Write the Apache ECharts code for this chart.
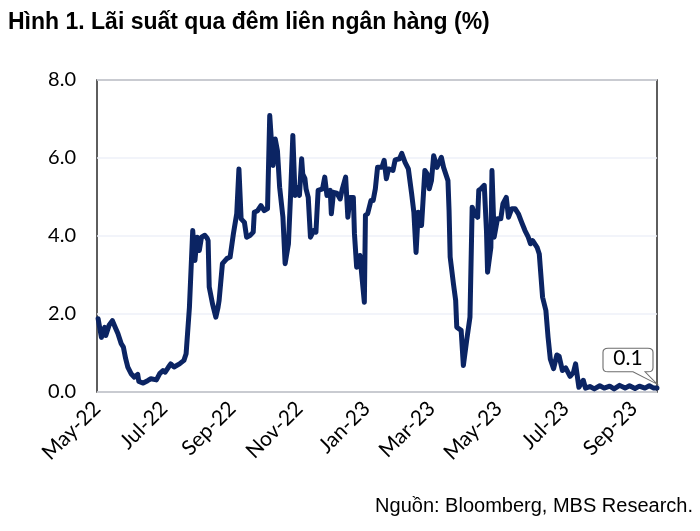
<!DOCTYPE html>
<html>
<head>
<meta charset="utf-8">
<script src="https://cdn.jsdelivr.net/npm/echarts@6/dist/echarts.min.js"></script>
<style>
html,body{margin:0;padding:0;background:#fff;}
#chart{width:700px;height:531px;}
</style>
</head>
<body>
<div id="chart"></div>
<script>
const titleText = 'Hình 1. Lãi suất qua đêm liên ngân hàng (%)';
const sourceText = 'Nguồn: Bloomberg, MBS Research.';
const startDate = [2022, 4, 1];           // 1 May 2022
const endOffset = 509;                    // axis end, days after start
const tickMonths = [[2022,4],[2022,6],[2022,8],[2022,10],[2023,0],[2023,2],[2023,4],[2023,6],[2023,8]];
const monthNames = ['Jan','Feb','Mar','Apr','May','Jun','Jul','Aug','Sep','Oct','Nov','Dec'];
const yTicks = [0, 2, 4, 6, 8];

// days after 1 May 2022
const dayOffsets = [1,4,7,8,11,14,17,19,22,24,26,28,31,34,37,38,42,46,49,54,57,60,62,65,67,70,75,79,81,84,87,89,91,93,95,98,100,101,102,105,108,110,111,114,118,121,124,127,129,131,134,136,139,142,143,146,149,152,155,157,160,162,164,166,169,171,174,176,178,180,183,184,186,187,189,190,192,194,197,199,201,205,207,209,212,213,215,218,221,223,226,228,230,233,234,236,239,240,243,244,246,249,251,253,255,259,261,263,265,269,271,275,277,280,283,286,288,290,292,295,298,300,302,304,306,309,313,315,319,320,321,324,326,327,331,333,336,339,341,343,346,347,349,352,354,355,358,359,361,364,367,369,372,374,377,380,383,386,389,392,394,396,400,402,405,408,410,412,415,418,420,423,426,430,433,435,438,440,442,444,448,452,457,461,466,470,475,480,484,489,493,498,502,506,509];
const rates = [1.88,1.40,1.66,1.45,1.71,1.83,1.63,1.50,1.24,1.15,0.86,0.64,0.47,0.38,0.45,0.27,0.23,0.29,0.34,0.31,0.47,0.55,0.51,0.64,0.72,0.64,0.72,0.81,0.98,2.17,4.14,3.37,3.97,3.63,3.97,4.02,3.95,3.88,2.69,2.26,1.92,2.17,2.35,3.29,3.42,3.46,4.06,4.57,5.72,4.44,4.35,3.97,4.01,4.10,4.61,4.65,4.78,4.65,4.70,7.09,5.81,6.49,6.19,5.25,4.48,3.29,3.80,5.08,6.58,5.04,5.25,5.04,5.98,5.59,5.47,5.21,4.99,3.97,4.14,4.10,5.17,5.21,5.51,5.04,5.17,4.57,5.12,5.10,4.95,5.21,5.51,4.48,4.99,4.99,4.06,3.20,3.50,3.46,2.30,4.53,4.57,4.91,4.91,5.21,5.76,5.76,5.94,5.47,5.72,5.68,5.95,5.98,6.12,5.89,5.72,5.08,4.61,3.58,4.61,4.27,5.68,5.60,5.21,5.42,6.06,5.76,6.02,5.76,5.42,4.65,3.46,2.77,2.35,1.66,1.58,0.68,1.32,1.92,4.74,4.57,4.48,5.17,5.21,5.30,4.14,3.07,3.71,5.68,3.97,4.44,4.44,4.83,4.99,4.48,4.70,4.70,4.57,4.35,4.14,3.97,3.80,3.88,3.71,3.54,2.43,2.09,1.40,0.85,0.60,0.95,0.92,0.55,0.62,0.40,0.50,0.72,0.12,0.22,0.30,0.10,0.14,0.08,0.16,0.10,0.15,0.08,0.17,0.10,0.16,0.09,0.15,0.10,0.16,0.10,0.10];

const DAY = 86400000;
const t0 = Date.UTC(startDate[0], startDate[1], startDate[2]);
const tickValues = tickMonths.map(m => Math.round((Date.UTC(m[0], m[1], 1) - t0) / DAY));
const seriesData = dayOffsets.map((d,i) => [d, rates[i]]);
const last = seriesData[seriesData.length - 1];

const chart = echarts.init(document.getElementById('chart'), null, {renderer:'canvas'});
chart.setOption({
  animation:false,
  backgroundColor:'#fff',
  title:[
    {text:titleText, left:3, top:6,
     textStyle:{fontFamily:'Liberation Sans, Arial, sans-serif', fontWeight:'bold', fontSize:23, color:'#000'}},
    {text:sourceText, right:2, bottom:10,
     textStyle:{fontFamily:'Liberation Sans, Arial, sans-serif', fontWeight:'normal', fontSize:20, color:'#000'}}
  ],
  grid:{left:97, top:80, width:560, height:312, show:true, borderColor:'#2a2a2a', borderWidth:1.5, backgroundColor:'transparent'},
  xAxis:{
    type:'value',
    min:0, max:endOffset,
    axisLine:{show:false}, axisTick:{show:false},
    splitLine:{show:false},
    axisLabel:{
      customValues:tickValues, rotate:45, margin:13,
      fontFamily:'Lato, sans-serif', fontSize:21, color:'#000',
      formatter:function(v){ const d=new Date(t0 + v*DAY); return monthNames[d.getUTCMonth()]+'-'+String(d.getUTCFullYear()).slice(2); }
    }
  },
  yAxis:{
    type:'value', min:yTicks[0], max:yTicks[yTicks.length-1], interval:2,
    axisLine:{show:false}, axisTick:{show:false},
    splitLine:{lineStyle:{color:'#eef0f8', width:1.5}},
    axisLabel:{margin:21, fontFamily:'Lato, sans-serif', fontSize:20, color:'#000',
      formatter:function(v){ return v.toFixed(1); }}
  },
  series:[{
    type:'line', data:seriesData, showSymbol:false,
    lineStyle:{color:'#0b2463', width:5, join:'round', cap:'round'},
    itemStyle:{color:'#0b2463'},
    markPoint:{
      silent:true,
      data:[{coord:last, value:last[1]}],
      symbol:'path://M5 0 H45 Q50 0 50 5 V24 Q50 29 45 29 H42 L54 44 L30 29 H5 Q0 29 0 24 V5 Q0 0 5 0 Z',
      symbolSize:[54,44], symbolKeepAspect:true, symbolOffset:[-27,-22],
      itemStyle:{color:'#fff', borderColor:'#6e6e6e', borderWidth:1},
      label:{show:true, position:'inside', offset:[-2,-7.5], color:'#000', fontSize:21,
        fontFamily:'Lato, sans-serif',
        formatter:function(p){ return Number(p.value).toFixed(1); }}
    }
  }]
});
</script>
</body>
</html>
